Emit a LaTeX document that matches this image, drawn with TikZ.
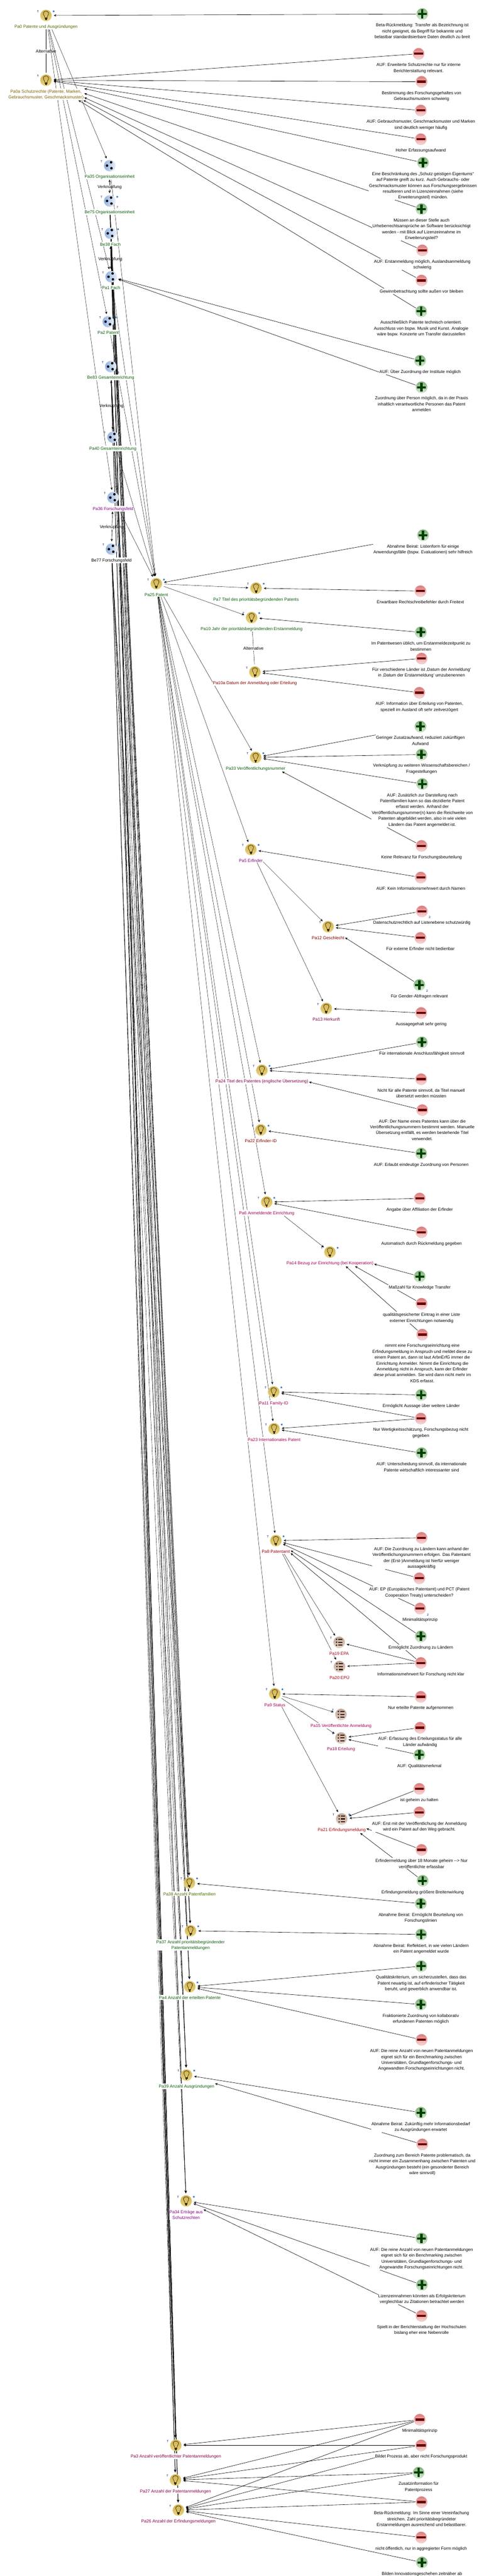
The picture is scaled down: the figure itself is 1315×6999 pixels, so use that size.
\documentclass[tikz,border=0pt]{standalone}
\usepackage{fontspec}
\setmainfont{Liberation Sans}
\usetikzlibrary{arrows.meta}
\pgfdeclarelayer{edgelayer}
\pgfdeclarelayer{linelayer}
\pgfsetlayers{edgelayer,linelayer,main}
\definecolor{cgreen}{HTML}{0B5C0B}
\definecolor{colive}{HTML}{4C6B00}
\definecolor{cbrown}{HTML}{7F5F00}
\definecolor{cpurple}{HTML}{800080}
\definecolor{cmaroon}{HTML}{800000}
\definecolor{cberry}{HTML}{800040}
\definecolor{ccrim}{HTML}{A00050}
\definecolor{cred}{HTML}{A00010}
\tikzset{
 x=1pt,y=-1pt,
 iconbase/.style={circle,minimum size=31pt,inner sep=0pt,line width=0.8pt},
 bulb/.style={iconbase,draw=LightGold,top color=Gold1,bottom color=Gold2,path picture={
   \begin{scope}[shift={(path picture bounding box.center)}]
   \draw[line width=1pt,draw=BulbDark] (-3,6) .. controls (-3,2) and (-8,-2) .. (-7,-7) .. controls (-6,-13) and (6,-13) .. (7,-7) .. controls (8,-2) and (3,2) .. (3,6);
   \fill[BulbDark] (-3.5,6) rectangle (3.5,10);
   \fill[BulbDark] (-1.8,10) rectangle (1.8,13);
   \end{scope}}},
 option/.style={iconbase,draw=BlueEdge,left color=Blue1,right color=Blue2,path picture={
   \begin{scope}[shift={(path picture bounding box.center)}]
   \fill (4,-9) circle (3.4);
   \fill (-7,0) circle (3.4);
   \fill (5,7) circle (3.4);
   \end{scope}}},
 listicon/.style={iconbase,draw=TanEdge,top color=Tan1,bottom color=Tan2,path picture={
   \begin{scope}[shift={(path picture bounding box.center)}]
   \foreach \r in {-8,0,8} {\fill[TanDark] (-7,\r) circle (2.2); \fill[TanDark] (-2,{\r-1.5}) rectangle (9,{\r+1.5});}
   \end{scope}}},
 pro/.style={iconbase,draw=ProEdge,top color=Pro1,bottom color=Pro2,path picture={
   \begin{scope}[shift={(path picture bounding box.center)}]
   \fill[ProDark] (-12,-2.8) rectangle (12,2.8);
   \fill[ProDark] (-3.2,-12.5) rectangle (3.2,12.5);
   \end{scope}}},
 con/.style={iconbase,draw=ConEdge,top color=Con1,bottom color=Con2,path picture={
   \begin{scope}[shift={(path picture bounding box.center)}]
   \fill[ConDark] (-12,-3) rectangle (12,3);
   \end{scope}}},
 lab/.style={anchor=north,align=center,fill=white,inner xsep=1pt,inner ysep=1pt,font=\fontsize{11.6}{16}\selectfont},
 elab/.style={fill=white,inner xsep=1pt,inner ysep=1pt,font=\fontsize{11.6}{16}\selectfont},
 tmark/.style={font=\fontsize{8}{8}\selectfont,text=TNavy,inner sep=0pt},
 starmark/.style={anchor=base,font=\fontsize{14}{14}\selectfont\bfseries,text=StarBlue,inner sep=0pt},
 badge/.style={font=\fontsize{8}{8}\selectfont,text=TNavy,inner sep=0pt},
 tip/.style={-{Stealth[length=7pt,width=6pt]}},
 argline/.style={tip,line width=0.85pt},
 isline/.style={tip,line width=0.6pt},
 plain/.style={line width=0.6pt},
 linkline/.style={{Stealth[length=7pt,width=6pt]}-{Stealth[length=7pt,width=6pt]},line width=0.9pt},
}
\definecolor{LightGold}{HTML}{E8DCA0}
\definecolor{Gold1}{HTML}{CDAF52}
\definecolor{Gold2}{HTML}{E9D47C}
\definecolor{BulbDark}{HTML}{3A2C06}
\definecolor{BlueEdge}{HTML}{D3E0F2}
\definecolor{Blue1}{HTML}{8FB0DE}
\definecolor{Blue2}{HTML}{E8EFF9}
\definecolor{TanEdge}{HTML}{DDCFC4}
\definecolor{Tan1}{HTML}{BDA695}
\definecolor{Tan2}{HTML}{E0D1C6}
\definecolor{TanDark}{HTML}{3B1C0A}
\definecolor{ProEdge}{HTML}{B4D2AE}
\definecolor{Pro1}{HTML}{7CAD75}
\definecolor{Pro2}{HTML}{D8EAD4}
\definecolor{ProDark}{HTML}{004000}
\definecolor{ConEdge}{HTML}{E8BBBB}
\definecolor{Con1}{HTML}{DB7878}
\definecolor{Con2}{HTML}{F9DADA}
\definecolor{ConDark}{HTML}{6B0000}
\definecolor{TNavy}{HTML}{000060}
\definecolor{StarBlue}{HTML}{0A5FB4}
\newcommand\TopStrut{\rule{0pt}{11pt}}
% issue node: name, shape, x, y, colour, text
\newcommand\Issue[6]{%
 \node[#2] (#1) at (#3,#4) {};
 \node[lab,text=#5] (#1-l) at (#3,{#4+22}) {\TopStrut #6};
 \node[tmark] (#1-t) at ({#3-22},{#4-11}) {T};
}
\newcommand\Star[1]{\node[starmark] (#1-s) at ([xshift=21pt,yshift=4pt]#1.center) {*};}
\newcommand\Badge[2]{\node[badge] (#1-b) at ([xshift=21pt,yshift=-17pt]#1.center) {#2};}
% argument node: name, pro/con, x, y, text
\newcommand\Arg[5]{%
 \node[#2] (#1) at (#3,#4) {};
 \node[lab,text=black] (#1-l) at (#3,{#4+22}) {\TopStrut #5};
}
% distance from centre of #1 to the point where a ray to #2 leaves label box of #1
\newcommand\ExitOf[3]{%
 \pgfpointanchor{#1}{center}\pgfgetlastxy{\ax}{\ay}%
 \pgfpointanchor{#2}{center}\pgfgetlastxy{\bx}{\by}%
 \pgfpointanchor{#1-l}{south west}\pgfgetlastxy{\lx}{\ly}%
 \pgfpointanchor{#1-l}{north east}\pgfgetlastxy{\rx}{\ry}%
 \edef\dd{\fpeval{sqrt((\bx-\ax)^2+(\by-\ay)^2)}}%
 \edef\ux{\fpeval{(\bx-\ax)/\dd+0.000001}}%
 \edef\uy{\fpeval{(\by-\ay)/\dd+0.000001}}%
 \edef\txa{\fpeval{(\lx-\ax)/\ux}}%
 \edef\txb{\fpeval{(\rx-\ax)/\ux}}%
 \edef\tya{\fpeval{(\ly-\ay)/\uy}}%
 \edef\tyb{\fpeval{(\ry-\ay)/\uy}}%
 \edef\tin{\fpeval{max(min(\txa,\txb),min(\tya,\tyb))}}%
 \edef\tou{\fpeval{min(max(\txa,\txb),max(\tya,\tyb))}}%
 \edef#3{\fpeval{round((\tou>=\tin && \tou>0) ? \tou : 0,2)}}%
}
\newcommand\Lk[4]{%
 \ExitOf{#3}{#4}{\ga}\ExitOf{#4}{#3}{\gb}%
 \edef\ga{\fpeval{max(#2,\ga)}}%
 \edef\gb{\fpeval{max(21,\gb+1)}}%
 \draw[#1,shorten <=\ga pt,shorten >=\gb pt] (#3.center) -- (#4.center);
}
\newcommand\AL[2]{\Lk{argline}{17}{#1}{#2}}
\newcommand\IL[2]{\Lk{isline}{22}{#1}{#2}}
\begin{document}
\begin{tikzpicture}
\useasboundingbox (0,0) rectangle (1315,6999);
\begin{pgfonlayer}{edgelayer}
\fill[white] (0,0) rectangle (1315,6999);
\end{pgfonlayer}
% ---------- issues
\Issue{pa0}{bulb}{125}{42}{colive}{Pa0 Patente und Ausgründungen}\Star{pa0}
\Issue{pa0a}{bulb}{125}{218}{cbrown}{Pa0a Schutzrechte (Patente, Marken,\\Gebrauchsmuster, Geschmacksmuster)}
\Issue{pa35}{option}{298}{450}{cgreen}{Pa35 Organisationseinheit}
\Issue{be75}{option}{298}{546}{cgreen}{Be75 Organisationseinheit}\Star{be75}\Badge{be75}{7}
\Issue{be38}{option}{300}{634}{cgreen}{Be38 Fach}\Star{be38}\Badge{be38}{7}
\Issue{pa1}{option}{302}{752}{cgreen}{Pa1 Fach}
\Issue{pa2}{option}{294}{874}{cgreen}{Pa2 Patent}\Star{pa2}
\Issue{be83}{option}{301}{996}{cgreen}{Be83 Gesamteinrichtung}\Badge{be83}{8}
\Issue{pa40}{option}{307}{1188}{cgreen}{Pa40 Gesamteinrichtung}
\Issue{pa36}{option}{307}{1352}{cpurple}{Pa36 Forschungsfeld}
\Issue{be77}{option}{303}{1492}{black}{Be77 Forschungsfeld}\Star{be77}\Badge{be77}{7}
\Issue{pa25}{bulb}{425}{1586}{cgreen}{Pa25 Patent}\Star{pa25}
\Issue{pa7}{bulb}{696}{1598}{cgreen}{Pa7 Titel des prioritätsbegründenden Patents}\Star{pa7}
\Issue{pa10}{bulb}{684}{1678}{cgreen}{Pa10 Jahr der prioritätsbegründenden Erstanmeldung}\Star{pa10}
\Issue{pa10a}{bulb}{693}{1826}{cmaroon}{Pa10a Datum der Anmeldung oder Erteilung}
\Issue{pa33}{bulb}{695}{2058}{cgreen}{Pa33 Veröffentlichungsnummer}\Star{pa33}
\Issue{pa5}{bulb}{682}{2308}{cpurple}{Pa5 Erfinder}\Star{pa5}
\Issue{pa12}{bulb}{892}{2518}{cmaroon}{Pa12 Geschlecht}
\Issue{pa13}{bulb}{887}{2740}{cberry}{Pa13 Herkunft}
\Issue{pa24}{bulb}{712}{2908}{cberry}{Pa24 Titel des Patentes (englische Übersetzung)}\Star{pa24}
\Issue{pa22}{bulb}{709}{3070}{cmaroon}{Pa22 Erfinder-ID}\Star{pa22}
\Issue{pa6}{bulb}{725}{3266}{ccrim}{Pa6 Anmeldende Einrichtung}\Star{pa6}
\Issue{pa14}{bulb}{897}{3402}{ccrim}{Pa14 Bezug zur Einrichtung (bei Kooperation)}\Star{pa14}
\Issue{pa11}{bulb}{744}{3782}{ccrim}{Pa11 Family-ID}\Star{pa11}
\Issue{pa23}{bulb}{745}{3882}{ccrim}{Pa23 Internationales Patent}\Star{pa23}
\Issue{pa8}{bulb}{750}{4186}{cred}{Pa8 Patentamt}\Star{pa8}
\Issue{pa19}{listicon}{922}{4462}{cred}{Pa19 EPA}
\Issue{pa20}{listicon}{923}{4528}{cred}{Pa20 EPÜ}
\Issue{pa9}{bulb}{747}{4602}{ccrim}{Pa9 Status}\Star{pa9}
\Issue{pa15}{listicon}{927}{4658}{ccrim}{Pa15 Veröffentlichte Anmeldung}
\Issue{pa18}{listicon}{927}{4722}{ccrim}{Pa18 Erteilung}
\Issue{pa21}{listicon}{929}{4942}{cred}{Pa21 Erfindungsmeldung}\Star{pa21}
\Issue{pa38}{bulb}{515}{5116}{colive}{Pa38 Anzahl Patentfamilien}\Star{pa38}
\Issue{pa37}{bulb}{518}{5246}{cgreen}{Pa37 Anzahl prioritätsbegründender\\Patentanmeldungen}\Star{pa37}
\Issue{pa4}{bulb}{516}{5398}{cgreen}{Pa4 Anzahl der erteilten Patente}\Star{pa4}
\Issue{pa39}{bulb}{507}{5638}{cgreen}{Pa39 Anzahl Ausgründungen}\Star{pa39}
\Issue{pa34}{bulb}{506}{5980}{cpurple}{Pa34 Erträge aus\\Schutzrechten}\Star{pa34}
\Issue{pa3}{bulb}{478}{6644}{cberry}{Pa3 Anzahl veröffentlichter Patentanmeldungen}
\Issue{pa27}{bulb}{477}{6738}{cberry}{Pa27 Anzahl der Patentanmeldungen}
\Issue{pa26}{bulb}{485}{6820}{cberry}{Pa26 Anzahl der Erfindungsmeldungen}
% ---------- arguments
\Arg{a38}{pro}{1148}{38}{Beta-Rückmeldung: Transfer als Bezeichnung ist\\nicht geeignet, da Begriff für bekannte und\\belastbar standardisierbare Daten deutlich zu breit}
\Arg{a146}{con}{1138}{146}{AUF: Erweiterte Schutzrechte nur für interne\\Berichterstattung relevant.}
\Arg{a222}{con}{1146}{222}{Bestimmung des Forschungsgehaltes von\\Gebrauchsmustern schwierig}
\Arg{a300}{con}{1144}{300}{AUF: Gebrauchsmuster, Geschmacksmuster und Marken\\sind deutlich weniger häufig}
\Arg{a378}{con}{1144}{378}{Hoher Erfassungsaufwand}
\Arg{a442}{pro}{1150}{442}{Eine Beschränkung des „Schutz geistigen Eigentums“\\auf Patente greift zu kurz. Auch Gebrauchs- oder\\Geschmacksmuster können aus Forschungsergebnissen\\resultieren und in Lizenzeinnahmen (siehe\\Erweiterungsteil) münden.}
\Arg{a568}{pro}{1146}{568}{Müssen an dieser Stelle auch\\Urheberrechtsansprüche an Software berücksichtigt\\werden - mit Blick auf Lizenzeinnahme im\\Erweiterungsteil?}
\Arg{a680}{con}{1148}{680}{AUF: Erstanmeldung möglich, Auslandsanmeldung\\schwierig}
\Arg{a762}{con}{1146}{762}{Gewinnbetrachtung sollte außen vor bleiben}
\Arg{a846}{pro}{1145}{846}{Ausschließlich Patente technisch orientiert.\\Ausschluss von bspw. Musik und Kunst. Analogie\\wäre bspw. Konzerte um Transfer darzustellen}
\Arg{a980}{pro}{1142}{980}{AUF: Über Zuordnung der Institute möglich}
\Arg{a1052}{pro}{1146}{1052}{Zuordnung über Person möglich, da in der Praxis\\inhaltlich verantwortliche Personen das Patent\\anmelden}
\Arg{a1454}{pro}{1150}{1454}{Abnahme Beirat: Listenform für einige\\Anwendungsfälle (bspw. Evaluationen) sehr hilfreich}
\Arg{a1606}{con}{1143}{1606}{Erwartbare Rechtschreibefehler durch Freitext}
\Arg{a1718}{pro}{1144}{1718}{Im Patentwesen üblich, um Erstanmeldezeitpunkt zu\\bestimmen}
\Arg{a1789}{con}{1146}{1789}{Für verschiedene Länder ist ‚Datum der Anmeldung‘\\in ‚Datum der Erstanmeldung‘ umzubenennen}
\Arg{a1882}{con}{1140}{1882}{AUF: Information über Erteilung von Patenten,\\speziell im Ausland oft sehr zeitverzögert}
\Arg{a1974}{pro}{1143}{1974}{Geringer Zusatzaufwand, reduziert zukünftigen\\Aufwand}
\Arg{a2050}{pro}{1146}{2050}{Verknüpfung zu weiteren Wissenschaftsbereichen /\\Fragestellungen}
\Arg{a2130}{pro}{1148}{2130}{AUF: Zusätzlich zur Darstellung nach\\Patentfamilien kann so das dezidierte Patent\\erfasst werden. Anhand der\\Veröffentlichungsnummer(n) kann die Reichweite von\\Patenten abgebildet werden, also in wie vielen\\Ländern das Patent angemeldet ist.}
\Arg{a2298}{con}{1146}{2298}{Keine Relevanz für Forschungsbeurteilung}
\Arg{a2384}{con}{1144}{2384}{AUF: Kein Informationsmehrwert durch Namen}
\Arg{a2476}{con}{1147}{2476}{Datenschutzrechtlich auf Listenebene schutzwürdig}\Badge{a2476}{2}
\Arg{a2548}{con}{1143}{2548}{Für externe Erfinder nicht bedienbar}
\Arg{a2676}{pro}{1140}{2676}{Für Gender-Abfragen relevant}\Badge{a2676}{2}
\Arg{a2752}{con}{1145}{2752}{Aussagegehalt sehr gering}
\Arg{a2832}{pro}{1147}{2832}{Für internationale Anschlussfähigkeit sinnvoll}
\Arg{a2932}{con}{1145}{2932}{Nicht für alle Patente sinnvoll, da Titel manuell\\übersetzt werden müssten}
\Arg{a3016}{con}{1148}{3016}{AUF: Der Name eines Patentes kann über die\\Veröffentlichungsnummern bestimmt werden. Manuelle\\Übersetzung entfällt, es werden bestehende Titel\\verwendet.}
\Arg{a3134}{pro}{1145}{3134}{AUF: Erlaubt eindeutige Zuordnung von Personen}
\Arg{a3256}{con}{1141}{3256}{Angabe über Affiliation der Erfinder}
\Arg{a3348}{con}{1146}{3348}{Automatisch durch Rückmeldung gegeben}
\Arg{a3468}{pro}{1141}{3468}{Maßzahl für Knowledge Transfer}
\Arg{a3542}{con}{1146}{3542}{qualitätsgesicherter Eintrag in einer Liste\\externer Einrichtungen notwendig}
\Arg{a3626}{con}{1148}{3626}{nimmt eine Forschungseinrichtung eine\\Erfindungsmeldung in Anspruch und meldet diese zu\\einem Patent an, dann ist laut ArbnErfG immer die\\Einrichtung Anmelder. Nimmt die Einrichtung die\\Anmeldung nicht in Anspruch, kann der Erfinder\\diese privat anmelden. Sie wird dann nicht mehr im\\KDS erfasst.}
\Arg{a3790}{pro}{1145}{3790}{Ermöglicht Aussage über weitere Länder}
\Arg{a3854}{con}{1144}{3854}{Nur Wertigkeitsschätzung, Forschungsbezug nicht\\gegeben}
\Arg{a3948}{pro}{1146}{3948}{AUF: Unterscheidung sinnvoll, da internationale\\Patente wirtschaftlich interessanter sind}
\Arg{a4178}{con}{1146}{4178}{AUF: Die Zuordnung zu Ländern kann anhand der\\Veröffentlichungsnummern erfolgen. Das Patentamt\\der (Erst-)Anmeldung ist hierfür weniger\\aussagekräftig}
\Arg{a4288}{con}{1140}{4288}{AUF: EP (Europäisches Patentamt) und PCT (Patent\\Cooperation Treaty) unterscheiden?}
\Arg{a4370}{con}{1142}{4370}{Minimalitätsprinzip}\Badge{a4370}{2}
\Arg{a4446}{pro}{1144}{4446}{Ermöglicht Zuordnung zu Ländern}
\Arg{a4518}{con}{1144}{4518}{Informationsmehrwert für Forschung nicht klar}
\Arg{a4610}{con}{1144}{4610}{Nur erteilte Patente aufgenommen}
\Arg{a4694}{con}{1142}{4694}{AUF: Erfassung des Erteilungsstatus für alle\\Länder aufwändig}
\Arg{a4768}{pro}{1140}{4768}{AUF: Qualitätsmerkmal}
\Arg{a4860}{con}{1140}{4860}{ist geheim zu halten}
\Arg{a4924}{con}{1140}{4924}{AUF: Erst mit der Veröffentlichung der Anmeldung\\wird ein Patent auf den Weg gebracht.}
\Arg{a5026}{con}{1146}{5026}{Erfindermeldung über 18 Monate geheim -{}-{}> Nur\\veröffentlichte erfassbar}
\Arg{a5110}{pro}{1149}{5110}{Erfindungsmeldung größere Breitenwirkung}
\Arg{a5172}{pro}{1144}{5172}{Abnahme Beirat: Ermöglicht Beurteilung von\\Forschungslinien}
\Arg{a5256}{pro}{1145}{5256}{Abnahme Beirat: Reflektiert, in wie vielen Ländern\\ein Patent angemeldet wurde}
\Arg{a5342}{pro}{1145}{5342}{Qualitätskriterium, um sicherzustellen, dass das\\Patent neuartig ist, auf erfinderischer Tätigkeit\\beruht, und gewerblich anwendbar ist.}
\Arg{a5446}{pro}{1144}{5446}{Fraktionierte Zuordnung von kollaborativ\\erfundenen Patenten möglich}
\Arg{a5542}{con}{1146}{5542}{AUF: Die reine Anzahl von neuen Patentanmeldungen\\eignet sich für ein Benchmarking zwischen\\Universitäten, Grundlagenforschungs- und\\Angewandten Forschungseinrichtungen nicht.}
\Arg{a5740}{pro}{1144}{5740}{Abnahme Beirat: Zukünftig mehr Informationsbedarf\\zu Ausgründungen erwartet}
\Arg{a5826}{con}{1148}{5826}{Zuordnung zum Bereich Patente problematisch, da\\nicht immer ein Zusammenhang zwischen Patenten und\\Ausgründungen besteht (ein gesonderter Bereich\\wäre sinnvoll)}
\Arg{a6082}{pro}{1146}{6082}{AUF: Die reine Anzahl von neuen Patentanmeldungen\\eignet sich für ein Benchmarking zwischen\\Universitäten, Grundlagenforschungs- und\\Angewandte Forschungseinrichtungen nicht.}
\Arg{a6208}{pro}{1147}{6208}{Lizenzeinnahmen könnten als Erfolgskriterium\\vergleichbar zu Zitationen betrachtet werden}
\Arg{a6292}{con}{1146}{6292}{Spielt in der Berichterstattung der Hochschulen\\bislang eher eine Nebenrolle}
\Arg{a6574}{con}{1141}{6574}{Minimalitätsprinzip}
\Arg{a6644}{con}{1145}{6644}{Bildet Prozess ab, aber nicht Forschungsprodukt}
\Arg{a6718}{pro}{1138}{6718}{Zusatzinformation für\\Patentprozess}
\Arg{a6798}{con}{1146}{6798}{Beta-Rückmeldung: Im Sinne einer Vereinfachung\\streichen. Zahl prioritätsbegründeter\\Erstanmeldungen ausreichend und belastbarer.}
\Arg{a6894}{con}{1145}{6894}{nicht öffentlich, nur in aggregierter Form möglich}
\Arg{a6962}{pro}{1147}{6962}{Bilden Innovationsgeschehen zeitnäher ab}
% ---------- labelled links, below the other connectors
\begin{pgfonlayer}{edgelayer}
\Lk{plain}{22}{pa0}{pa0a}
\Lk{plain}{22}{pa10}{pa10a}
\node[elab] (alt1) at (125,140) {Alternative};
\node[elab] (alt2) at (689,1762) {Alternative};
\Lk{linkline}{21}{pa35}{be75}
\Lk{linkline}{21}{be38}{pa1}
\Lk{linkline}{21}{be83}{pa40}
\Lk{linkline}{21}{pa36}{be77}
\node[elab] (v1) at (298,509) {Verknüpfung};
\node[elab] (v2) at (300,704) {Verknüpfung};
\node[elab] (v3) at (303,1103) {Verknüpfung};
\node[elab] (v4) at (304,1433) {Verknüpfung};
\end{pgfonlayer}
% ---------- connectors
\begin{pgfonlayer}{linelayer}
\IL{pa0}{pa35}\IL{pa0}{pa1}\IL{pa0}{pa2}\IL{pa0}{pa36}
\IL{pa35}{pa25}\IL{pa1}{pa25}\IL{pa2}{pa25}\IL{pa40}{pa25}\IL{pa36}{pa25}
\foreach \s in {be75,be38,be83,be77}{
 \foreach \t in {pa38,pa37,pa4,pa39,pa34,pa3,pa27,pa26}{\IL{\s}{\t}}}
\foreach \t in {pa7,pa10,pa33,pa5,pa24,pa22,pa6,pa11,pa23,pa8,pa9}{\IL{pa25}{\t}}
\IL{pa5}{pa12}\IL{pa5}{pa13}\IL{pa6}{pa14}\IL{pa8}{pa19}\IL{pa8}{pa20}
\IL{pa9}{pa15}\IL{pa9}{pa18}\IL{pa9}{pa21}
\AL{a38}{pa0}
\foreach \a in {a146,a222,a300,a378,a442,a568,a680,a762,a846}{\AL{\a}{pa0a}}
\AL{a980}{pa1}\AL{a1052}{pa1}\AL{a1454}{pa25}\AL{a1606}{pa7}\AL{a1718}{pa10}
\AL{a1789}{pa10a}\AL{a1882}{pa10a}
\foreach \a in {a1974,a2050,a2130,a2298}{\AL{\a}{pa33}}
\AL{a2384}{pa5}
\foreach \a in {a2476,a2548,a2676}{\AL{\a}{pa12}}
\AL{a2752}{pa13}
\foreach \a in {a2832,a2932,a3016}{\AL{\a}{pa24}}
\AL{a3134}{pa22}\AL{a3256}{pa6}\AL{a3348}{pa6}
\foreach \a in {a3468,a3542,a3626}{\AL{\a}{pa14}}
\AL{a3790}{pa11}\AL{a3854}{pa11}\AL{a3854}{pa23}\AL{a3948}{pa23}
\foreach \a in {a4178,a4288,a4370,a4446,a4518}{\AL{\a}{pa8}}
\AL{a4518}{pa19}\AL{a4518}{pa20}\AL{a4610}{pa9}\AL{a4694}{pa18}\AL{a4768}{pa18}
\foreach \a in {a4860,a4924,a5026,a5110}{\AL{\a}{pa21}}
\AL{a5172}{pa38}\AL{a5256}{pa37}
\foreach \a in {a5342,a5446,a5542}{\AL{\a}{pa4}}
\AL{a5740}{pa39}\AL{a5826}{pa39}
\foreach \a in {a6082,a6208,a6292}{\AL{\a}{pa34}}
\AL{a6574}{pa3}\AL{a6644}{pa3}
\foreach \a in {a6574,a6644,a6718,a6798}{\AL{\a}{pa27}}
\foreach \a in {a6574,a6644,a6718,a6798,a6894,a6962}{\AL{\a}{pa26}}
\end{pgfonlayer}
\end{tikzpicture}
\end{document}
